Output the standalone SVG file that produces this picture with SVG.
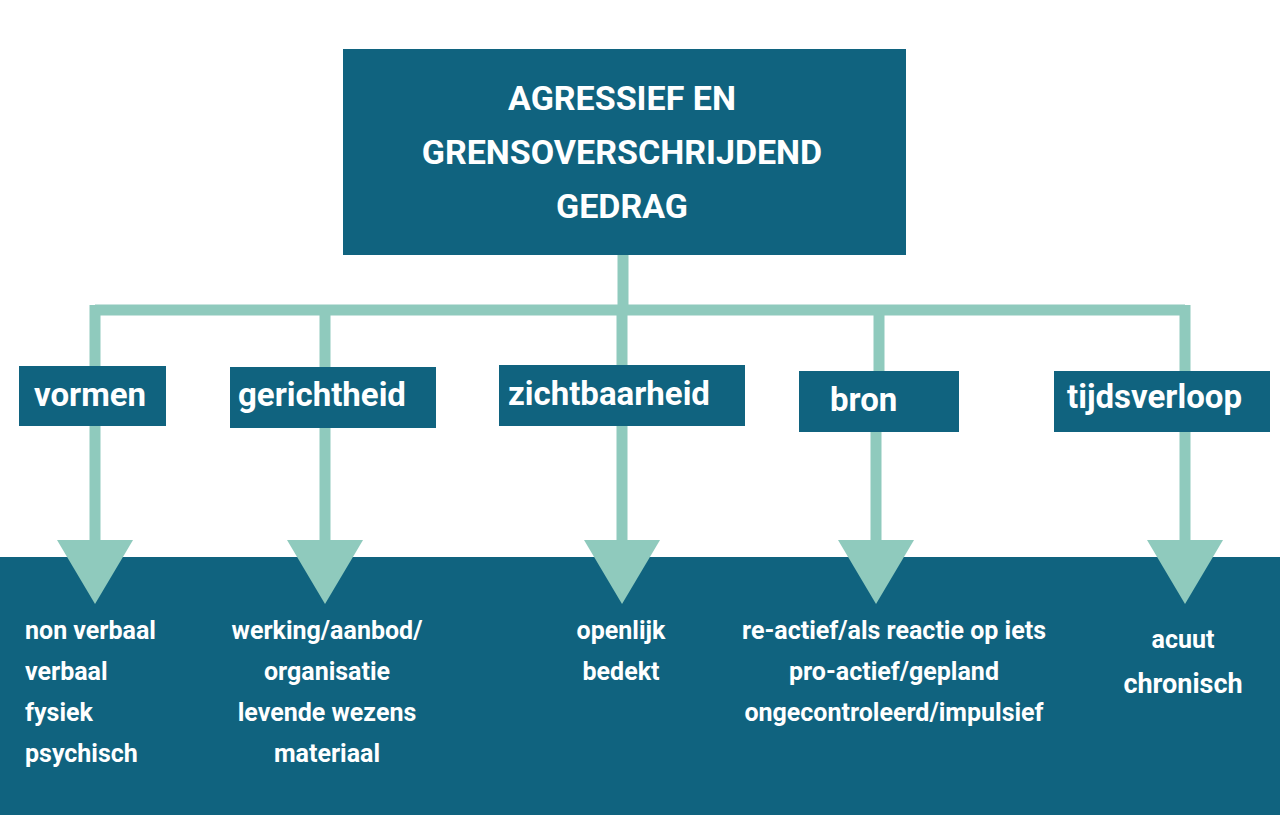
<svg xmlns="http://www.w3.org/2000/svg" width="1280" height="815" viewBox="0 0 1280 815">
<style>
.d{fill:#10637f}.l{stroke:#8fcabd;stroke-width:11;fill:none}.a{fill:#8fcabd}
text{font-family:Roboto,"Liberation Sans",sans-serif;font-weight:bold;fill:#fff}
.h{font-size:34px}.b{font-size:33px}.t{font-size:25px}
</style>
<rect width="1280" height="815" fill="#fff"/>
<rect class="d" x="0" y="557" width="1280" height="258"/>
<g id="connectors">
<path class="l" d="M623 255V310M95 310H1185M95 305V366M325 305V367M622 305V365M879 305V371M1185 305V371"/>
<path class="l" d="M95 426V545M325 428V545M622 426V545M876 432V545M1185 432V545"/>
<polygon class="a" points="57,540 133,540 95,604"/>
<polygon class="a" points="287,540 363,540 325,604"/>
<polygon class="a" points="584,540 660,540 622,604"/>
<polygon class="a" points="838,540 914,540 876,604"/>
<polygon class="a" points="1147,540 1223,540 1185,604"/>
</g>
<g id="root"><rect class="d" x="343" y="49" width="563" height="206"/>
<text class="h" text-anchor="middle" x="622" y="110">AGRESSIEF EN</text>
<text class="h" text-anchor="middle" x="622" y="164">GRENSOVERSCHRIJDEND</text>
<text class="h" text-anchor="middle" x="622" y="218">GEDRAG</text></g>
<g id="vormen"><rect class="d" x="19" y="366" width="147" height="60"/><text class="b" x="34" y="406">vormen</text></g>
<g id="gerichtheid"><rect class="d" x="230" y="367" width="206" height="61"/><text class="b" x="238" y="406">gerichtheid</text></g>
<g id="zichtbaarheid"><rect class="d" x="499" y="365" width="246" height="61"/><text class="b" x="508" y="405">zichtbaarheid</text></g>
<g id="bron"><rect class="d" x="799" y="371" width="160" height="61"/><text class="b" x="830" y="411">bron</text></g>
<g id="tijdsverloop"><rect class="d" x="1054" y="371" width="216" height="61"/><text class="b" x="1067" y="408">tijdsverloop</text></g>
<g id="t1"><text class="t" x="25" y="639">non verbaal</text><text class="t" x="25" y="680">verbaal</text><text class="t" x="25" y="721">fysiek</text><text class="t" x="25" y="762">psychisch</text></g>
<g id="t2" text-anchor="middle"><text class="t" x="327" y="639">werking/aanbod/</text><text class="t" x="327" y="680">organisatie</text><text class="t" x="327" y="721">levende wezens</text><text class="t" x="327" y="762">materiaal</text></g>
<g id="t3" text-anchor="middle"><text class="t" x="621" y="639">openlijk</text><text class="t" x="621" y="680">bedekt</text></g>
<g id="t4" text-anchor="middle"><text class="t" x="894" y="639">re-actief/als reactie op iets</text><text class="t" x="894" y="680">pro-actief/gepland</text><text class="t" x="894" y="721">ongecontroleerd/impulsief</text></g>
<g id="t5" text-anchor="middle"><text class="t" x="1183" y="648" font-size="27">acuut</text><text class="t" x="1183" y="693" style="font-size:27px">chronisch</text></g>
</svg>
